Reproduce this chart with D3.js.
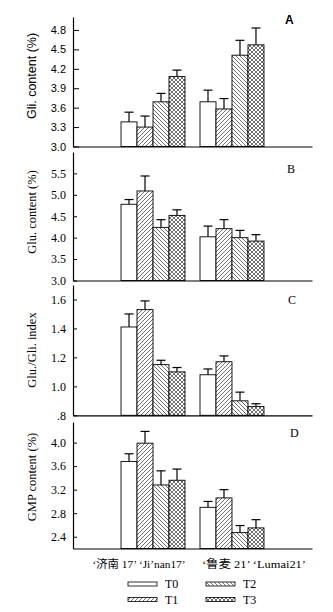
<!DOCTYPE html>
<html>
<head>
<meta charset="utf-8">
<script src="https://cdn.jsdelivr.net/npm/d3@7"></script>
<style>
  html, body { margin: 0; padding: 0; background: #fff; }
  svg { display: block; }
</style>
</head>
<body>
<svg id="chart" width="333" height="612"></svg>
<script>
// ---------------- data ----------------
const groups = ["Jinan17", "Lumai21"];
const groupLabels = ["\u2018济南 17\u2019 \u2018Ji\u2019nan17\u2019", "\u2018鲁麦 21\u2019 \u2018Lumai21\u2019"];
const treatments = ["T0", "T1", "T2", "T3"];

// Panel A: gliadin content (%)
const gliMean = [[3.38, 3.30, 3.69, 4.08], [3.69, 3.58, 4.41, 4.57]];
const gliErr  = [[0.15, 0.17, 0.13, 0.10], [0.18, 0.16, 0.23, 0.26]];
const gliTicks = [3.0, 3.3, 3.6, 3.9, 4.2, 4.5, 4.8];

// Panel B: glutenin content (%)
const gluMean = [[4.78, 5.09, 4.24, 4.52], [4.02, 4.21, 4.00, 3.92]];
const gluErr  = [[0.11, 0.35, 0.18, 0.13], [0.25, 0.21, 0.17, 0.15]];
const gluTicks = [3.0, 3.5, 4.0, 4.5, 5.0, 5.5];

// Panel C: Glu./Gli. index
const ratioMean = [[1.41, 1.53, 1.15, 1.10], [1.08, 1.17, 0.90, 0.86]];
const ratioErr  = [[0.09, 0.06, 0.03, 0.03], [0.04, 0.04, 0.06, 0.02]];
const ratioTicks = [0.8, 1.0, 1.2, 1.4, 1.6];

// Panel D: GMP content (%)
const gmpMean = [[3.68, 3.99, 3.28, 3.36], [2.90, 3.06, 2.47, 2.55]];
const gmpErr  = [[0.13, 0.20, 0.24, 0.19], [0.10, 0.14, 0.12, 0.14]];
const gmpTicks = [2.4, 2.8, 3.2, 3.6, 4.0];

// ---------------- layout ----------------
const SANS = "'Liberation Sans', Arial, Helvetica, sans-serif";
const SERIF = "'Liberation Serif', 'Times New Roman', 'Noto Sans CJK SC', serif";
const axisLeftX = 73, axisRightX = 312;

const panels = [
  { key: "A", mean: gliMean, err: gliErr, ticks: gliTicks, domain: [3.0, 5.0],
    top: 17, bottom: 146.5, label: "Gli. content (%)", font: SANS, tickFont: 11, labelFont: 12.5,
    fmt: d3.format(".1f"), letterX: 285, letterY: 24, letterWeight: "bold", tickLen: 6, labelY: 76 },
  { key: "B", mean: gluMean, err: gluErr, ticks: gluTicks, domain: [3.0, 6.0],
    top: 152, bottom: 280.5, label: "Glu. content (%)", font: SERIF, tickFont: 12, labelFont: 12.5,
    fmt: d3.format(".1f"), letterX: 287, letterY: 173, letterWeight: "normal", tickLen: 4, labelY: 212 },
  { key: "C", mean: ratioMean, err: ratioErr, ticks: ratioTicks, domain: [0.8, 1.7],
    top: 285, bottom: 415.3, label: "Glu./Gli. index", font: SERIF, tickFont: 12, labelFont: 12.5,
    fmt: v => d3.format(".1f")(v).replace(/^0\./, "."), letterX: 288, letterY: 304, letterWeight: "normal", tickLen: 4, labelY: 350 },
  { key: "D", mean: gmpMean, err: gmpErr, ticks: gmpTicks, domain: [2.2, 4.35],
    top: 422, bottom: 548.5, label: "GMP content (%)", font: SERIF, tickFont: 12, labelFont: 12.5,
    fmt: d3.format(".1f"), letterX: 290, letterY: 437, letterWeight: "normal", tickLen: 4, labelY: 477 }
];

const svg = d3.select("#chart");

// ---------------- patterns ----------------
const defs = svg.append("defs");
function hatch(id, dirs) {
  const p = defs.append("pattern").attr("id", id).attr("patternUnits", "userSpaceOnUse")
    .attr("width", 4).attr("height", 4);
  p.append("rect").attr("width", 4).attr("height", 4).attr("fill", "#fff");
  dirs.forEach(d => {
    if (d === "/") {
      p.append("path").attr("d", "M-1,1 L1,-1 M0,4 L4,0 M3,5 L5,3");
    } else {
      p.append("path").attr("d", "M-1,3 L1,5 M0,0 L4,4 M3,-1 L5,1");
    }
  });
  p.selectAll("path").attr("stroke", "#333").attr("stroke-width", 0.7).attr("fill", "none");
}
hatch("pT1", ["/"]);
hatch("pT2", ["\\"]);
hatch("pT3", ["/", "\\"]);
const fills = { T0: "#fff", T1: "url(#pT1)", T2: "url(#pT2)", T3: "url(#pT3)" };

// ---------------- scales ----------------
const x0 = d3.scaleBand().domain(groups).range([axisLeftX, axisRightX])
  .paddingInner(0.19).paddingOuter(0.608);
const x1 = d3.scaleBand().domain(treatments).range([0, x0.bandwidth()]).padding(0);

const capW = 9;

panels.forEach(P => {
  const y = d3.scaleLinear().domain(P.domain).range([P.bottom, P.top]);
  const g = svg.append("g");

  // bars
  groups.forEach((grp, gi) => {
    treatments.forEach((t, ti) => {
      const v = P.mean[gi][ti], e = P.err[gi][ti];
      const bx = x0(grp) + x1(t);
      const cx = bx + x1.bandwidth() / 2;
      // error bar
      g.append("line").attr("x1", cx).attr("x2", cx).attr("y1", y(v)).attr("y2", y(v + e))
        .attr("stroke", "#000").attr("stroke-width", 1.2);
      g.append("line").attr("x1", cx - capW / 2).attr("x2", cx + capW / 2)
        .attr("y1", y(v + e)).attr("y2", y(v + e))
        .attr("stroke", "#000").attr("stroke-width", 1.2);
      g.append("rect").attr("x", bx).attr("y", y(v)).attr("width", x1.bandwidth())
        .attr("height", y(P.domain[0]) - y(v))
        .attr("fill", fills[t]).attr("stroke", "#000").attr("stroke-width", 0.9);
    });
  });

  // y axis
  const ya = g.append("g").attr("transform", `translate(${axisLeftX},0)`)
    .call(d3.axisLeft(y).tickValues(P.ticks).tickFormat(P.fmt)
      .tickSizeInner(-P.tickLen).tickSizeOuter(0).tickPadding(7));
  ya.select(".domain").attr("stroke", "#000").attr("stroke-width", 1.2);
  ya.selectAll(".tick line").attr("stroke", "#000").attr("stroke-width", 1);
  ya.selectAll(".tick text").attr("font-family", P.font).attr("font-size", P.tickFont)
    .attr("fill", "#000");

  // x axis line
  const xa = g.append("g").attr("transform", `translate(0,${P.bottom})`)
    .call(d3.axisBottom(x0).tickSize(0).tickFormat(""));
  xa.select(".domain").attr("stroke", "#000").attr("stroke-width", 1.2);
  xa.selectAll(".tick").remove();

  // y label
  g.append("text").attr("transform", `translate(32,${P.labelY}) rotate(-90)`)
    .attr("text-anchor", "middle").attr("dominant-baseline", "central")
    .attr("font-family", P.font).attr("font-size", P.labelFont).attr("fill", "#000")
    .text(P.label);

  // panel letter
  g.append("text").attr("x", P.letterX).attr("y", P.letterY)
    .attr("font-family", P.font).attr("font-size", 12).attr("font-weight", P.letterWeight)
    .attr("fill", "#000").text(P.key);
});

// ---------------- group labels ----------------
const labelOffsets = [-14, 22];
const labelLens = [93, 104];
groups.forEach((grp, gi) => {
  svg.append("text")
    .attr("x", x0(grp) + x0.bandwidth() / 2 + labelOffsets[gi]).attr("y", 568)
    .attr("text-anchor", "middle")
    .attr("font-family", SERIF).attr("font-size", 11).attr("fill", "#000")
    .attr("textLength", labelLens[gi]).attr("lengthAdjust", "spacingAndGlyphs")
    .text(groupLabels[gi]);
});

// ---------------- legend ----------------
const legendPos = { T0: [128, 584], T1: [128, 599.5], T2: [206, 584], T3: [206, 599.5] };
treatments.forEach(t => {
  const [lx, ly] = legendPos[t];
  svg.append("rect").attr("x", lx).attr("y", ly - 2).attr("width", 29).attr("height", 4)
    .attr("fill", fills[t]).attr("stroke", "#000").attr("stroke-width", 0.8);
  svg.append("text").attr("x", lx + 37).attr("y", ly + 4)
    .attr("font-family", SERIF).attr("font-size", 12).attr("fill", "#000").text(t);
});
</script>
</body>
</html>
